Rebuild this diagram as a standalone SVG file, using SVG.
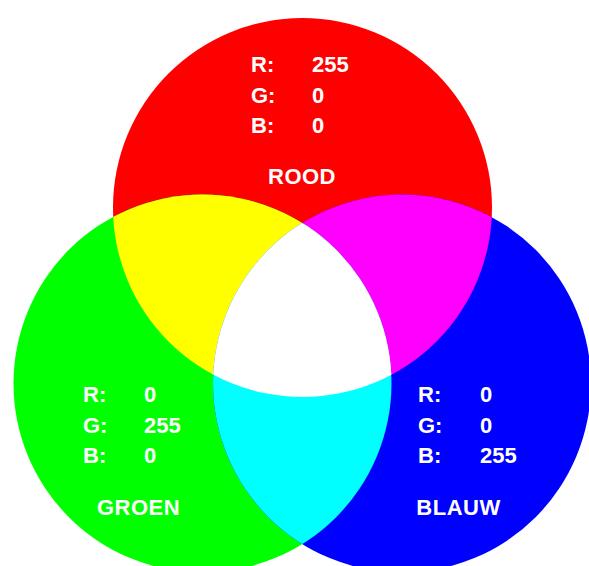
<svg xmlns="http://www.w3.org/2000/svg" width="589" height="566" viewBox="0 0 589 566">
  <style>
    .t { font-family: "Liberation Sans", Arial, sans-serif; font-weight: 700; font-size: 22px; fill: #ffffff; }
    .title { text-anchor: middle; letter-spacing: 0.5px; }
  </style>
  <defs>
    <clipPath id="clipRed"><circle cx="302.5" cy="207.5" r="189.5"/></clipPath>
    <clipPath id="clipGreen"><circle cx="202.5" cy="383.5" r="189"/></clipPath>
  </defs>
  <rect width="589" height="566" fill="#ffffff"/>
  <g id="circle-red"><circle cx="302.5" cy="207.5" r="189.5" fill="#ff0000"/></g>
  <g id="circle-green"><circle cx="202.5" cy="383.5" r="189" fill="#00ff00"/></g>
  <g id="circle-blue"><circle cx="402" cy="383.5" r="189" fill="#0000ff"/></g>
  <g id="overlap-yellow" clip-path="url(#clipRed)"><circle cx="202.5" cy="383.5" r="189" fill="#ffff00"/></g>
  <g id="overlap-magenta" clip-path="url(#clipRed)"><circle cx="402" cy="383.5" r="189" fill="#ff00ff"/></g>
  <g id="overlap-cyan" clip-path="url(#clipGreen)"><circle cx="402" cy="383.5" r="189" fill="#00ffff"/></g>
  <g id="overlap-white" clip-path="url(#clipRed)"><g clip-path="url(#clipGreen)"><circle cx="402" cy="383.5" r="189" fill="#ffffff"/></g></g>

  <g id="label-red" class="t">
    <text x="251" y="72">R:</text><text x="312" y="72">255</text>
    <text x="251" y="103">G:</text><text x="312" y="103">0</text>
    <text x="251" y="133">B:</text><text x="312" y="133">0</text>
    <text class="title" x="302" y="184">ROOD</text>
  </g>
  <g id="label-green" class="t">
    <text x="83" y="402">R:</text><text x="144" y="402">0</text>
    <text x="83" y="433">G:</text><text x="144" y="433">255</text>
    <text x="83" y="463">B:</text><text x="144" y="463">0</text>
    <text class="title" x="138.5" y="515">GROEN</text>
  </g>
  <g id="label-blue" class="t">
    <text x="418" y="402">R:</text><text x="480" y="402">0</text>
    <text x="418" y="433">G:</text><text x="480" y="433">0</text>
    <text x="418" y="463">B:</text><text x="480" y="463">255</text>
    <text class="title" x="458.5" y="515">BLAUW</text>
  </g>
</svg>
